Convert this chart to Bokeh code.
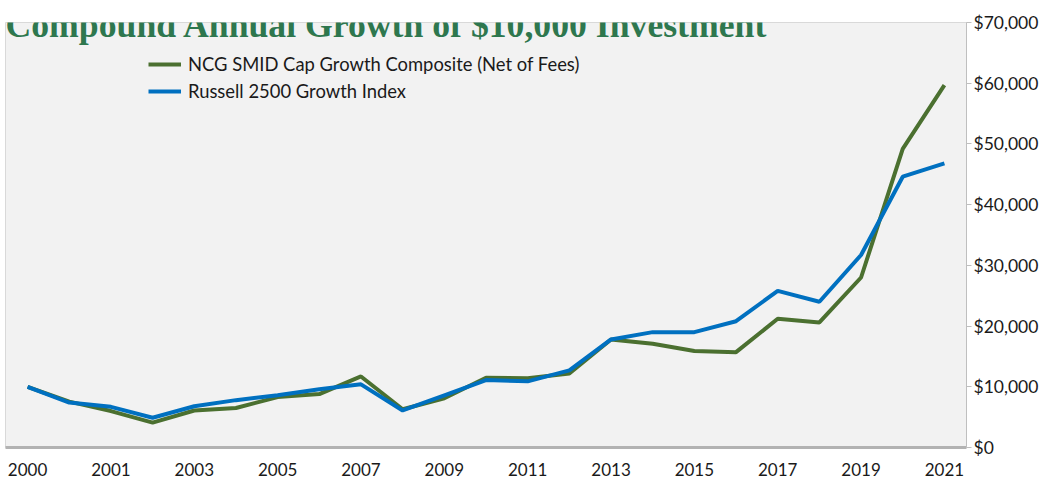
from bokeh.plotting import figure
from bokeh.models import (FixedTicker, NumeralTickFormatter, Legend, LegendItem,
                          Label, Range1d)
from bokeh.embed import file_html
from bokeh.resources import INLINE

# ---- data ----
categories = ["2000", "2000", "2001", "2002", "2003", "2004", "2005", "2006",
              "2007", "2008", "2009", "2010", "2011", "2012", "2013", "2014",
              "2015", "2016", "2017", "2018", "2019", "2020", "2021"]
ncg_values = [10000, 7550, 6000, 4100, 6100, 6500, 8300, 8800, 11700, 6300,
              8100, 11500, 11400, 12200, 17800, 17100, 15900, 15700, 21200,
              20600, 28000, 49200, 59700]
russell_values = [10000, 7400, 6700, 4900, 6800, 7800, 8600, 9600, 10400, 6100,
                  8600, 11100, 10900, 12700, 17800, 19000, 19000, 20800, 25800,
                  24000, 31700, 44600, 46800]
label_positions = list(range(0, len(categories), 2))
series_names = ["NCG SMID Cap Growth Composite (Net of Fees)",
                "Russell 2500 Growth Index"]
title_text = "Compound Annual Growth of $10,000 Investment"

x = list(range(len(categories)))

GREEN = "#4b7030"
BLUE = "#0070c0"
FONT = "Lato"

p = figure(width=1047, height=483, output_backend="svg", toolbar_location=None,
           x_range=Range1d(-0.53, len(categories) - 1 + 0.53),
           y_range=Range1d(0, 70000), y_axis_location="right",
           min_border_left=5, min_border_right=81, min_border_top=22,
           min_border_bottom=36)

p.background_fill_color = "#f2f2f2"
p.border_fill_color = "white"
p.outline_line_color = "#d9d9d9"
p.outline_line_width = 1
p.xgrid.visible = False
p.ygrid.visible = False

r1 = p.line(x, ncg_values, line_color=GREEN, line_width=4)
r2 = p.line(x, russell_values, line_color=BLUE, line_width=4)

# y axis (right)
ya = p.yaxis[0]
ya.ticker = FixedTicker(ticks=list(range(0, 70001, 10000)))
ya.formatter = NumeralTickFormatter(format="$0,0")
ya.axis_line_color = "#bfbfbf"
ya.axis_line_width = 1
ya.major_tick_line_color = "#bfbfbf"
ya.major_tick_in = 0
ya.major_tick_out = 5
ya.minor_tick_line_color = None
ya.major_label_standoff = 2
ya.major_label_text_font = FONT
ya.major_label_text_font_size = "17.5px"
ya.major_label_text_color = "#1a1a1a"

# x axis
xa = p.xaxis[0]
xa.ticker = FixedTicker(ticks=label_positions)
xa.major_label_overrides = {i: categories[i] for i in label_positions}
xa.axis_line_color = "#b3b3b3"
xa.axis_line_width = 3
xa.major_tick_line_color = None
xa.minor_tick_line_color = None
xa.major_label_standoff = 9
xa.major_label_text_font = FONT
xa.major_label_text_font_size = "17px"
xa.major_label_text_color = "#1a1a1a"

legend = Legend(items=[LegendItem(label=series_names[0], renderers=[r1]),
                       LegendItem(label=series_names[1], renderers=[r2])],
                location=(143, 345), padding=0, margin=0, spacing=5,
                glyph_width=33, glyph_height=20, label_height=20,
                label_standoff=7, label_text_font=FONT,
                label_text_font_size="18.4px", label_text_color="#1a1a1a",
                background_fill_alpha=0, border_line_color=None)
p.add_layout(legend, "center")

title = Label(x=-0.53, y=70000, text=title_text, x_offset=0, y_offset=-2,
              text_font="Liberation Serif", text_font_style="bold",
              text_font_size="35.7px", text_color="#2e774e",
              text_baseline="alphabetic", text_align="left")
p.add_layout(title)

open("out.html", "w").write(file_html(p, INLINE))
